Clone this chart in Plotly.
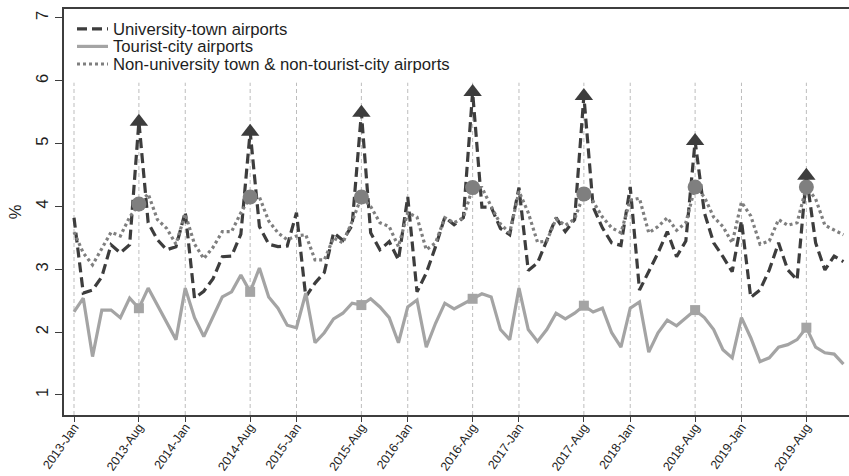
import pandas as pd
import plotly.graph_objects as go

# Monthly share (%) of passengers, Jan 2013 - Dec 2019
months = [p.strftime("%Y-%b") for p in pd.period_range("2013-01", "2019-12", freq="M")]

university_town = [
    3.82, 2.62, 2.67, 2.88, 3.39, 3.26, 3.39, 5.35, 3.74, 3.47, 3.31, 3.36,
    3.91, 2.54, 2.65, 2.85, 3.20, 3.21, 3.56, 5.19, 3.68, 3.40, 3.36, 3.37,
    3.90, 2.56, 2.78, 2.95, 3.58, 3.46, 3.70, 5.49, 3.58, 3.31, 3.44, 3.15,
    4.15, 2.64, 2.94, 3.36, 3.83, 3.71, 3.82, 5.82, 3.99, 3.99, 3.65, 3.55,
    4.30, 2.98, 3.10, 3.45, 3.82, 3.60, 3.79, 5.76, 3.99, 3.66, 3.42, 3.38,
    4.31, 2.67, 2.97, 3.26, 3.60, 3.20, 3.45, 5.04, 3.90, 3.42, 3.20, 2.96,
    3.77, 2.55, 2.67, 2.99, 3.42, 2.99, 2.83, 4.49, 3.42, 2.99, 3.21, 3.12,
]

tourist_city = [
    2.32, 2.54, 1.61, 2.35, 2.35, 2.23, 2.54, 2.38, 2.70, 2.43, 2.16, 1.88,
    2.70, 2.23, 1.93, 2.25, 2.56, 2.64, 2.91, 2.64, 3.02, 2.56, 2.38, 2.11,
    2.07, 2.62, 1.83, 1.99, 2.21, 2.30, 2.46, 2.43, 2.53, 2.40, 2.23, 1.83,
    2.40, 2.51, 1.76, 2.14, 2.46, 2.37, 2.45, 2.53, 2.61, 2.56, 2.04, 1.88,
    2.70, 2.04, 1.85, 2.04, 2.30, 2.21, 2.30, 2.42, 2.32, 2.38, 1.99, 1.76,
    2.38, 2.48, 1.68, 1.99, 2.19, 2.10, 2.23, 2.35, 2.23, 2.04, 1.72, 1.59,
    2.23, 1.91, 1.53, 1.59, 1.76, 1.80, 1.88, 2.07, 1.76, 1.67, 1.65, 1.49,
]

other_airports = [
    3.59, 3.26, 3.07, 3.34, 3.59, 3.53, 3.83, 4.04, 4.20, 3.79, 3.65, 3.40,
    3.88, 3.40, 3.17, 3.35, 3.60, 3.60, 3.90, 4.15, 4.15, 3.77, 3.58, 3.47,
    3.53, 3.55, 3.15, 3.15, 3.50, 3.42, 3.76, 4.15, 4.00, 3.74, 3.68, 3.36,
    3.90, 3.83, 3.31, 3.42, 3.82, 3.74, 3.82, 4.30, 4.30, 4.00, 3.72, 3.58,
    4.24, 3.90, 3.43, 3.45, 3.80, 3.70, 3.80, 4.20, 4.08, 3.83, 3.66, 3.58,
    4.10, 4.13, 3.58, 3.68, 3.82, 3.62, 3.74, 4.31, 4.15, 3.83, 3.68, 3.42,
    4.07, 3.85, 3.40, 3.45, 3.79, 3.70, 3.74, 4.31, 4.12, 3.70, 3.63, 3.55,
]

series_names = [
    "University-town airports",
    "Tourist-city airports",
    "Non-university town & non-tourist-city airports",
]

tick_labels = [
    "2013-Jan", "2013-Aug", "2014-Jan", "2014-Aug", "2015-Jan", "2015-Aug",
    "2016-Jan", "2016-Aug", "2017-Jan", "2017-Aug", "2018-Jan", "2018-Aug",
    "2019-Jan", "2019-Aug",
]

DARK = "#3d3d3d"
MID = "#7f7f7f"
LIGHT = "#a4a4a4"
TEXT = "#1e1e1e"
FONT = "Liberation Sans, Arial, sans-serif"

line_styles = [
    dict(color=DARK, width=3.2, dash="10px,5px"),
    dict(color=LIGHT, width=3.2, dash="solid"),
    dict(color=MID, width=3.2, dash="3px,3px"),
]

aug_idx = [i for i, m in enumerate(months) if m.endswith("Aug")]
aug_months = [months[i] for i in aug_idx]

fig = go.Figure()

for name, values, style in zip(series_names,
                               [university_town, tourist_city, other_airports],
                               line_styles):
    fig.add_trace(go.Scatter(x=months, y=values, mode="lines", name=name,
                             line=style, showlegend=False))

# August highlights
fig.add_trace(go.Scatter(
    x=aug_months, y=[tourist_city[i] for i in aug_idx], mode="markers",
    marker=dict(symbol="square", size=10, color=LIGHT), showlegend=False,
))
fig.add_trace(go.Scatter(
    x=aug_months, y=[other_airports[i] for i in aug_idx], mode="markers",
    marker=dict(symbol="circle", size=15, color=MID), showlegend=False,
))
fig.add_trace(go.Scatter(
    x=aug_months, y=[university_town[i] for i in aug_idx], mode="markers",
    marker=dict(symbol="triangle-up", size=16, color=DARK), showlegend=False,
))

# vertical reference lines at the labelled months
for lab in tick_labels:
    fig.add_shape(
        type="line", xref="x", yref="y", x0=lab, x1=lab, y0=0.68, y1=5.97,
        line=dict(color="#bdbdbd", width=1, dash="4px,3px"), layer="below",
    )

# compact legend block in the upper-left corner of the plot
PLOT_W, PLOT_H = 785, 406
legend_rows_px = [28.8, 46.4, 64.0]     # distance from top of figure
for name, style, row in zip(series_names, line_styles, legend_rows_px):
    yp = (415 - row) / PLOT_H
    fig.add_shape(
        type="line", xref="paper", yref="paper",
        x0=(77 - 64) / PLOT_W, x1=(108 - 64) / PLOT_W, y0=yp, y1=yp,
        line=style,
    )
    fig.add_annotation(
        xref="paper", yref="paper", x=(112 - 64) / PLOT_W, y=yp - 0.5 / PLOT_H,
        xanchor="left", yanchor="middle", text=name, showarrow=False,
        borderpad=0, font=dict(size=16.7, family=FONT, color=TEXT),
    )

fig.update_layout(
    width=849, height=476,
    margin=dict(l=64, r=0, t=9, b=61),
    paper_bgcolor="white", plot_bgcolor="white",
    font=dict(family=FONT, color=TEXT),
    showlegend=False,
    xaxis=dict(
        type="category", categoryorder="array", categoryarray=months,
        range=[-1.08, 83.6], automargin=False,
        tickmode="array", tickvals=tick_labels, ticktext=tick_labels,
        tickangle=-55, tickfont=dict(size=12.5), ticklabelstandoff=-7,
        ticks="outside", ticklen=5, tickcolor=DARK,
        showgrid=False, zeroline=False,
        showline=True, linecolor=DARK, linewidth=2, mirror=True,
    ),
    yaxis=dict(
        range=[0.68, 7.143], automargin=False,
        tickmode="array", tickvals=[1, 2, 3, 4, 5, 6, 7],
        tickangle=-90, tickfont=dict(size=16.5),
        ticks="outside", ticklen=7, tickcolor=DARK,
        showgrid=False, zeroline=False,
        showline=True, linecolor=DARK, linewidth=2,
        title=dict(text="%", font=dict(size=16.5), standoff=8),
    ),
)

fig.write_html("out.html")
